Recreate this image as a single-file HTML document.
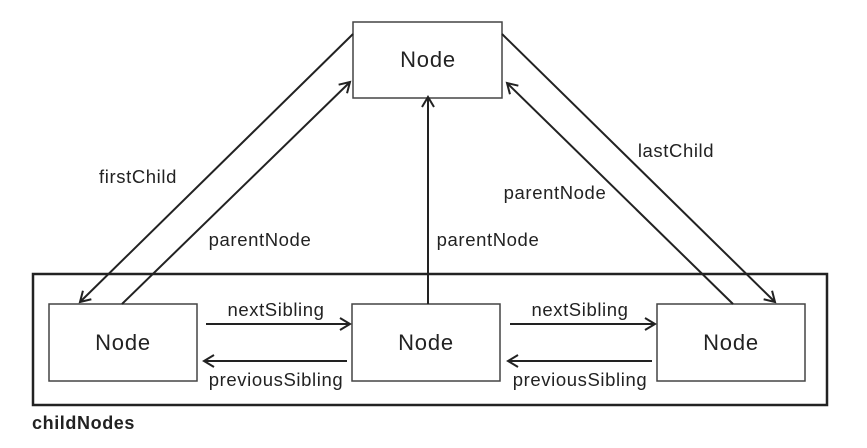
<!DOCTYPE html>
<html><head><meta charset="utf-8"><style>body{margin:0;background:#fff}</style></head><body>
<svg width="867" height="443" xmlns="http://www.w3.org/2000/svg" font-family="Liberation Sans, sans-serif" fill="#222">
<defs><marker id="a" markerWidth="14" markerHeight="14" refX="11" refY="7" orient="auto" markerUnits="userSpaceOnUse"><path d="M1,1 L11,7 L1,13" fill="none" stroke="#222" stroke-width="2"/></marker></defs>
<g fill="#fff" stroke="#444" stroke-width="1.5">
<rect x="353" y="22" width="149" height="76"/>
</g>
<rect x="33" y="274" width="794" height="131" fill="none" stroke="#222" stroke-width="2.5"/>
<g fill="#fff" stroke="#444" stroke-width="1.5">
<rect x="49" y="304" width="148" height="77"/>
<rect x="352" y="304" width="148" height="77"/>
<rect x="657" y="304" width="148" height="77"/>
</g>
<g stroke="#222" stroke-width="2" marker-end="url(#a)">
<line x1="353" y1="34" x2="80" y2="302"/>
<line x1="122" y1="304" x2="350" y2="82"/>
<line x1="428" y1="304" x2="428" y2="97"/>
<line x1="502" y1="34" x2="775" y2="302"/>
<line x1="733" y1="304" x2="507" y2="83"/>
<line x1="206" y1="324" x2="350" y2="324"/>
<line x1="347" y1="361" x2="204" y2="361"/>
<line x1="510" y1="324" x2="655" y2="324"/>
<line x1="652" y1="361" x2="508" y2="361"/>
</g>
<g font-size="22" text-anchor="middle" letter-spacing="0.8">
<text x="428" y="67">Node</text>
<text x="123" y="350">Node</text>
<text x="426" y="350">Node</text>
<text x="731" y="350">Node</text>
</g>
<g font-size="18.5" text-anchor="middle" letter-spacing="0.6">
<text x="276" y="316">nextSibling</text>
<text x="276" y="386">previousSibling</text>
<text x="580" y="316">nextSibling</text>
<text x="580" y="386">previousSibling</text>
<text x="138" y="183">firstChild</text>
<text x="260" y="246">parentNode</text>
<text x="488" y="246">parentNode</text>
<text x="555" y="199">parentNode</text>
<text x="676" y="157">lastChild</text>
</g>
<text x="32" y="429" font-size="18" font-weight="bold" letter-spacing="0.6">childNodes</text>
</svg>
</body></html>
